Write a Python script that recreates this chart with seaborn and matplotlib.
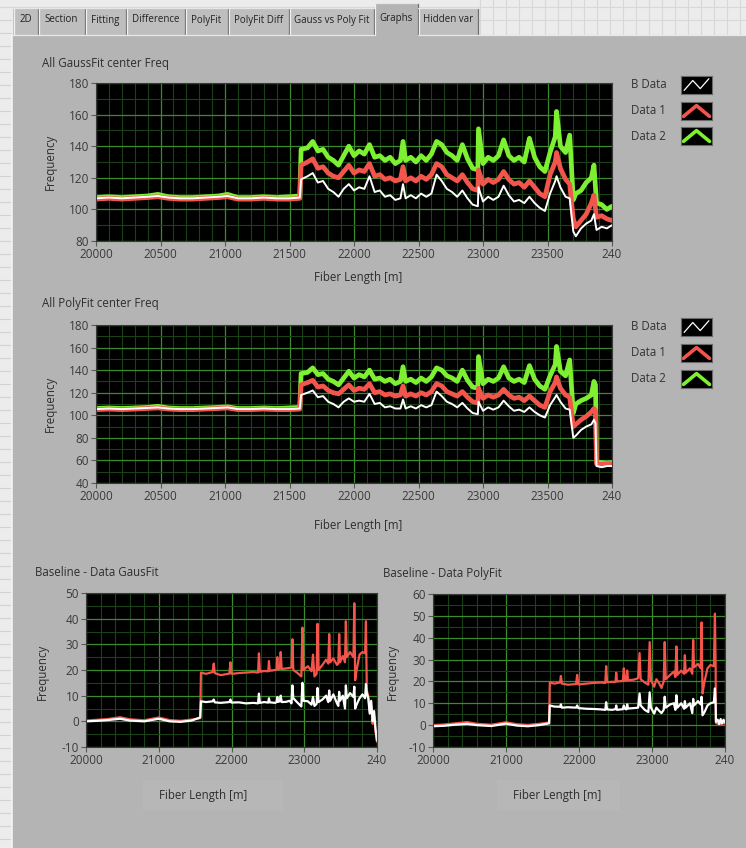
import numpy as np
import pandas as pd
import seaborn as sns
import matplotlib.pyplot as plt
from matplotlib.patches import Rectangle
from matplotlib.lines import Line2D
from matplotlib.ticker import MultipleLocator, FuncFormatter

# ---------------- values ----------------
tab_names = ["2D", "Section", "Fitting", "Difference", "PolyFit", "PolyFit Diff",
             "Gauss vs Poly Fit", "Graphs", "Hidden var"]
legend_names = ["B Data", "Data 1", "Data 2"]

# All GaussFit center Freq
gauss_x = [20000, 20100, 20200, 20300, 20400, 20480, 20560, 20650, 20750, 20850,
           20950, 21020, 21100, 21200, 21300, 21400, 21500, 21580,
           21590, 21640, 21680, 21720, 21760, 21800, 21840, 21880, 21920, 21960,
           22000, 22040, 22080, 22120, 22160, 22200, 22240, 22280, 22320, 22360,
           22380, 22400, 22440, 22480, 22520, 22560, 22600, 22640, 22680, 22720,
           22760, 22800, 22840, 22880, 22920, 22960, 22965, 23000, 23040, 23080,
           23120, 23160, 23200, 23240, 23280, 23320, 23360, 23400, 23440, 23480,
           23520, 23560, 23570, 23600, 23640, 23672, 23700, 23720, 23760, 23800,
           23840, 23860, 23880, 23920, 23960, 24000]
gauss_b = [107, 107.5, 107, 107.5, 108, 108.5, 107.5, 107, 107, 107.5,
           108, 108.5, 107, 107, 107.5, 107, 107, 107.5,
           119, 121, 123, 117, 118, 113, 111, 108, 113, 116,
           112, 114, 113, 121, 111, 112, 108, 109, 106, 107,
           116, 107, 109, 107, 110, 108, 110, 122, 118, 113,
           111, 108, 112, 107, 103, 102, 114, 105, 108, 106,
           108, 115, 109, 105, 106, 104, 108, 104, 101, 99,
           110, 118, 121, 114, 108, 107, 86, 83, 88, 91,
           93, 97, 87, 89, 88, 90]
gauss_d1 = [106.5, 107, 106.5, 107, 107.5, 108, 107, 106.5, 106.5, 107,
            107.5, 108, 106.5, 106.5, 107, 106.5, 106.5, 107,
            128, 130, 132, 126, 127, 123, 121, 120, 124, 128,
            123, 125, 124, 129, 121, 122, 119, 120, 118, 119,
            127, 118, 120, 118, 121, 119, 122, 129, 127, 122,
            120, 118, 122, 117, 113, 112, 125, 116, 119, 117,
            119, 124, 119, 116, 117, 114, 118, 114, 110, 108,
            122, 130, 136, 126, 119, 116, 94, 89, 93, 97,
            104, 109, 95, 96, 94, 93]
gauss_d2 = [107.5, 108, 107.5, 108, 108.5, 109.5, 108, 107.5, 107.5, 108,
            108.5, 109.5, 107.5, 107.5, 108, 107.5, 108, 108.5,
            138, 139, 143, 137, 138, 133, 131, 128, 134, 140,
            134, 137, 135, 141, 133, 134, 131, 133, 129, 131,
            143, 131, 133, 130, 134, 131, 135, 143, 141, 136,
            134, 131, 141, 132, 126, 125, 151, 129, 133, 131,
            134, 144, 134, 131, 133, 130, 145, 133, 127, 124,
            136, 146, 162, 140, 136, 147, 106, 110, 112, 117,
            120, 128, 104, 103, 100, 102]

# All PolyFit center Freq
poly_x = [20000, 20100, 20200, 20300, 20400, 20480, 20560, 20650, 20750, 20850,
          20950, 21020, 21100, 21200, 21300, 21400, 21500, 21580,
          21590, 21640, 21680, 21720, 21760, 21800, 21840, 21880, 21920, 21960,
          22000, 22040, 22080, 22120, 22160, 22200, 22240, 22280, 22320, 22360,
          22380, 22400, 22440, 22480, 22520, 22560, 22600, 22640, 22680, 22720,
          22760, 22800, 22840, 22880, 22920, 22960, 22965, 23000, 23040, 23080,
          23120, 23160, 23200, 23240, 23280, 23320, 23360, 23400, 23440, 23480,
          23520, 23560, 23570, 23600, 23640, 23672, 23700, 23720, 23760, 23800,
          23840, 23860, 23872, 23880, 23920, 23960, 24000]
poly_b = [105.5, 106, 105.5, 106, 106.5, 107, 106, 105.5, 105.5, 106,
          106.5, 107, 105.5, 105.5, 106, 105.5, 105.5, 106,
          118, 120, 122, 116, 117, 112, 110, 107, 112, 115,
          112, 113, 112, 119, 110, 111, 107, 108, 106, 106,
          114, 106, 108, 106, 109, 107, 109, 121, 117, 112,
          110, 107, 111, 106, 102, 101, 112, 104, 107, 105,
          107, 113, 108, 104, 105, 103, 107, 103, 100, 98,
          109, 116, 118, 112, 106, 105, 80, 82, 87, 90,
          92, 96, 93, 55, 54, 55, 55]
poly_d1 = [105, 105.5, 105, 105.5, 106, 106.5, 105.5, 105, 105, 105.5,
           106, 106.5, 105, 105, 105.5, 105, 105, 105.5,
           127, 129, 131, 125, 126, 122, 120, 119, 123, 127,
           122, 124, 123, 128, 120, 121, 118, 119, 117, 118,
           126, 117, 119, 117, 120, 118, 121, 128, 126, 121,
           119, 117, 121, 116, 112, 111, 124, 115, 118, 116,
           118, 123, 118, 115, 116, 113, 117, 113, 109, 107,
           121, 129, 134, 124, 118, 116, 90, 92, 96, 99,
           103, 106, 104, 57, 56.5, 57, 57]
poly_d2 = [106, 106.5, 106, 106.5, 107, 108, 106.5, 106, 106, 106.5,
           107, 107.5, 106, 106, 106.5, 106, 106.5, 107,
           137, 138, 142, 136, 137, 132, 130, 127, 133, 139,
           133, 136, 134, 140, 132, 133, 130, 132, 128, 130,
           143, 130, 132, 129, 133, 130, 134, 142, 140, 135,
           133, 130, 140, 131, 125, 124, 152, 128, 132, 130,
           133, 143, 133, 130, 132, 129, 144, 132, 126, 123,
           135, 145, 161, 139, 135, 149, 102, 110, 113, 115,
           118, 130, 127, 58.5, 58, 57.5, 58]

# Baseline - Data GausFit
gdiff_x = [20000, 20150, 20300, 20470, 20600, 20800, 21000, 21150, 21300, 21450, 21570,
           21580, 21650, 21740, 21756, 21770, 21850, 21970, 21986, 22000, 22100,
           22200, 22300, 22365, 22377, 22390, 22450, 22505, 22515, 22525, 22600,
           22620, 22630, 22640, 22665, 22676, 22690, 22750, 22800, 22825, 22837,
           22850, 22900, 22960, 22975, 22990, 23050, 23100, 23120, 23140, 23170,
           23182, 23195, 23250, 23300, 23330, 23343, 23356, 23400, 23450, 23468,
           23480, 23492, 23530, 23560, 23572, 23585, 23630, 23676, 23688, 23700,
           23720, 23760, 23800, 23836, 23848, 23860, 23880, 23900, 23920, 23940,
           23960, 23980, 24000]
gdiff_red = [0.3, 0.6, 0.9, 1.6, 0.8, 0.4, 1.5, 0.5, 0.2, 0.7, 1.2,
             19.0, 18.5, 19.2, 22.5, 18.8, 18.0, 18.6, 23.0, 18.5, 18.8,
             19.0, 19.2, 19.0, 26.5, 19.3, 19.6, 19.5, 23.5, 19.7, 20.0,
             20.2, 25.0, 20.3, 20.5, 27.0, 20.4, 20.6, 20.8, 21.0, 32.0,
             20.0, 19.0, 17.5, 36.5, 20.0, 21.5, 19.5, 26.0, 17.5, 18.5,
             38.0, 20.0, 22.0, 24.0, 22.5, 34.0, 23.0, 24.5, 22.0, 22.5,
             34.0, 23.0, 25.5, 23.0, 39.0, 25.0, 27.0, 25.0, 46.0, 16.0,
             20.0, 26.0, 27.0, 26.5, 39.0, 12.0, 10.0, 4.0, 6.0, -1.0,
             2.0, -4.0, -8.0]
gdiff_white = [0.0, 0.2, 0.5, 1.0, 0.3, 0.0, 1.0, 0.0, -0.2, 0.3, 1.5,
               7.8, 7.5, 7.8, 8.5, 7.4, 7.2, 7.5, 8.5, 7.3, 7.4,
               7.0, 7.2, 7.0, 10.8, 7.2, 7.5, 7.3, 9.0, 7.4, 7.2,
               7.5, 9.5, 7.6, 7.8, 10.0, 7.5, 7.6, 8.0, 7.0, 14.0,
               9.0, 7.5, 5.8, 15.0, 8.0, 7.8, 6.5, 9.5, 6.0, 6.8,
               13.0, 7.5, 8.5, 10.0, 7.5, 12.0, 8.0, 10.5, 7.0, 6.0,
               11.5, 8.0, 10.0, 5.0, 14.0, 9.0, 11.0, 9.5, 13.5, 5.0,
               6.5, 9.0, 10.5, 9.0, 14.5, 11.0, 9.0, 3.0, 8.0, 0.0,
               4.0, -3.0, -7.5]

# Baseline - Data PolyFit
pdiff_x = [20000, 20150, 20300, 20470, 20600, 20800, 21000, 21150, 21300, 21450, 21590,
           21600, 21660, 21740, 21752, 21765, 21850, 21960, 21975, 21990, 22100,
           22200, 22300, 22360, 22372, 22385, 22450, 22500, 22510, 22520, 22600,
           22614, 22628, 22650, 22660, 22672, 22750, 22810, 22830, 22845, 22900,
           22950, 22968, 22985, 23030, 23060, 23100, 23130, 23160, 23174, 23188,
           23250, 23300, 23320, 23334, 23348, 23400, 23440, 23450, 23462, 23520,
           23552, 23564, 23576, 23630, 23667, 23679, 23692, 23720, 23760, 23800,
           23848, 23862, 23872, 23876, 23900, 23920, 23940, 23960, 23980, 24000]
pdiff_red = [0.0, 0.3, 0.8, 1.4, 0.6, 0.2, 1.3, 0.4, 0.1, 0.6, 1.2,
             19.5, 19.0, 19.5, 22.5, 19.0, 18.5, 18.8, 23.0, 18.6, 19.0,
             19.3, 19.5, 19.3, 27.0, 19.6, 19.8, 19.8, 24.0, 20.0, 20.2,
             26.0, 20.3, 20.5, 25.0, 20.6, 20.8, 21.5, 33.0, 21.0, 19.5,
             18.5, 38.0, 20.5, 17.6, 21.0, 19.0, 17.0, 20.0, 38.0, 21.0,
             23.0, 24.5, 22.0, 36.0, 23.0, 25.0, 23.5, 32.0, 24.0, 26.0,
             23.5, 39.0, 26.5, 28.0, 26.0, 47.0, 14.5, 20.0, 26.0, 27.5,
             27.0, 51.0, 26.0, 1.0, 0.6, 1.2, 0.4, 1.0, 0.7, 0.9]
pdiff_white = [-0.5, -0.3, 0.2, 0.6, 0.0, -0.4, 0.7, -0.2, -0.5, 0.0, 0.8,
               9.0, 8.5, 8.4, 9.5, 8.0, 8.2, 8.0, 9.0, 7.8, 7.5,
               7.4, 7.2, 7.0, 10.5, 7.2, 7.0, 7.3, 9.0, 7.0, 7.3,
               9.0, 7.5, 7.2, 9.5, 7.6, 7.8, 8.0, 14.5, 9.0, 7.0,
               6.0, 15.0, 8.0, 5.3, 8.0, 6.5, 5.5, 7.0, 13.0, 8.0,
               9.5, 10.0, 7.0, 13.7, 8.0, 10.0, 7.5, 11.0, 8.0, 10.0,
               5.5, 12.0, 9.0, 11.0, 9.5, 13.0, 4.5, 6.0, 9.0, 10.0,
               10.5, 16.8, 9.0, 1.5, 2.5, 0.5, 2.8, 0.8, 2.5, 1.2]

# ---------------- styling ----------------
W, H = 746, 848
PANEL = "#b4b4b4"
WHITE, RED, GREEN = "#ffffff", "#f2554b", "#7df032"

sns.set_theme(style="ticks")
plt.rcParams["font.family"] = ["Open Sans", "DejaVu Sans"]
plt.rcParams["axes.unicode_minus"] = False
TXT = "#2e2e2e"


def fx(px):
    return px / W


def fy(py):
    return 1 - py / H


def box(x0, y0, x1, y1):
    return [fx(x0), fy(y1), (x1 - x0) / W, (y1 - y0) / H]


fig = plt.figure(figsize=(W / 100, H / 100), dpi=100, facecolor="#ececec")


def frect(x0, y0, x1, y1, z=-5, **kw):
    fig.add_artist(Rectangle((fx(x0), fy(y1)), (x1 - x0) / W, (y1 - y0) / H,
                             transform=fig.transFigure, zorder=z, **kw))


def fline(xs, ys, z=-4, **kw):
    fig.add_artist(Line2D([fx(v) for v in xs], [fy(v) for v in ys],
                          transform=fig.transFigure, zorder=z, **kw))


# background pane grid (left strip and right of the tabs)
for gy in range(7, H, 13):
    fline([0, 11], [gy, gy], z=-8, color="#d2d2d2", lw=0.8)
for gx in range(480, W, 13):
    fline([gx, gx], [0, 35], z=-8, color="#d8d8d8", lw=0.8)
fline([478, W], [20, 20], z=-8, color="#d8d8d8", lw=0.8)
fline([0, W], [7, 7], z=-8, color="#d8d8d8", lw=0.8)

# panel
frect(12, 35, W, H, z=-7, facecolor=PANEL, edgecolor="none")
fline([12, 12], [35, H], color="#f4f4f4", lw=1.2)

# tabs
tab_edges = [13, 38, 85, 126, 185, 228, 289, 375, 418, 478]
for i, name in enumerate(tab_names):
    x0, x1 = tab_edges[i], tab_edges[i + 1]
    sel = name == "Graphs"
    top = 3 if sel else 8
    frect(x0, top, x1, 37 if sel else 35,
          facecolor=PANEL if sel else "#bebebe", edgecolor="none")
    fline([x0 + 0.5, x0 + 0.5], [top, 35], color="#f0f0f0", lw=0.9)
    fline([x1 - 0.5, x1 - 0.5], [top, 35], color="#6e6e6e", lw=0.9)
    fline([x0, x1], [top, top], color="#e6e6e6", lw=0.9)
    fig.text(fx((x0 + x1) / 2), fy(18 if sel else 20), name, ha="center", va="center",
             fontsize=7.0, color="#222222")
fline([tab_edges[0], tab_edges[7]], [35, 35], color="#e8e8e8", lw=0.9)
fline([tab_edges[8], W], [35, 35], color="#e8e8e8", lw=0.9)

# faint plates behind the lower x labels
frect(143, 780, 283, 810, facecolor="#b7b7b7", edgecolor="none")
frect(497, 780, 620, 810, facecolor="#b7b7b7", edgecolor="none")


def style_axes(ax, ylim, xmaj, xmin, ymaj, ymin):
    ax.set_facecolor("black")
    ax.set_xlim(20000, 24000)
    ax.set_ylim(*ylim)
    ax.xaxis.set_major_locator(MultipleLocator(xmaj))
    ax.xaxis.set_minor_locator(MultipleLocator(xmin))
    ax.yaxis.set_major_locator(MultipleLocator(ymaj))
    ax.yaxis.set_minor_locator(MultipleLocator(ymin))
    ax.xaxis.set_major_formatter(FuncFormatter(lambda v, p: "240" if v >= 24000 else f"{v:.0f}"))
    ax.yaxis.set_major_formatter(FuncFormatter(lambda v, p: f"{v:.0f}"))
    ax.grid(which="minor", color="#1b4217", lw=0.8)
    ax.grid(which="major", color="#3d8a2c", lw=0.9)
    ax.set_axisbelow(True)
    ax.tick_params(which="minor", length=0)
    ax.tick_params(which="major", length=3.5, width=0.8, color="#5a5a5a",
                   labelsize=8.5, labelcolor="#3a3a3a", pad=1.5)
    for s in ax.spines.values():
        s.set_color("#3a3a3a")
        s.set_linewidth(0.8)
    ax.set_xlabel("")
    ax.set_ylabel("")


def swatch(rect, color, lw, zig):
    sa = fig.add_axes(box(*rect))
    sa.set_facecolor("black")
    sa.set_xlim(0, 1)
    sa.set_ylim(0, 1)
    sa.set_xticks([])
    sa.set_yticks([])
    for s in sa.spines.values():
        s.set_color("#6a6a6a")
        s.set_linewidth(0.8)
    if zig:
        sa.plot([0.1, 0.38, 0.62, 0.9], [0.2, 0.75, 0.3, 0.85], color=color, lw=lw)
    else:
        sa.plot([0.08, 0.5, 0.92], [0.2, 0.8, 0.2], color=color, lw=lw)


def legend_block(y_boxes):
    styles = [(WHITE, 0.9, True), (RED, 2.6, False), (GREEN, 2.6, False)]
    for name, (y0, y1), (c, lw, zig) in zip(legend_names, y_boxes, styles):
        fig.text(fx(631), fy((y0 + y1) / 2), name, ha="left", va="center",
                 fontsize=8.3, color="#333333")
        swatch((681, y0, 712, y1), c, lw, zig)


# ---- top: GaussFit ----
ax1 = fig.add_axes(box(96, 83, 612, 241))
sns.lineplot(x=gauss_x, y=gauss_d2, ax=ax1, color=GREEN, linewidth=3.4, estimator=None)
sns.lineplot(x=gauss_x, y=gauss_d1, ax=ax1, color=RED, linewidth=3.4, estimator=None)
sns.lineplot(x=gauss_x, y=gauss_b, ax=ax1, color=WHITE, linewidth=1.4, estimator=None)
style_axes(ax1, (80, 180), 500, 100, 20, 10)
fig.text(fx(42), fy(63), "All GaussFit center Freq", fontsize=8.3, color=TXT, va="center")
fig.text(fx(50), fy(162), "Frequency", rotation=90, fontsize=8.3, color=TXT,
         ha="center", va="center")
fig.text(fx(358), fy(278), "Fiber Length [m]", fontsize=8.3, color=TXT, ha="center", va="center")
legend_block([(76, 94), (102, 120), (127, 145)])

# ---- middle: PolyFit ----
ax2 = fig.add_axes(box(96, 325, 612, 483))
sns.lineplot(x=poly_x, y=poly_d2, ax=ax2, color=GREEN, linewidth=3.4, estimator=None)
sns.lineplot(x=poly_x, y=poly_d1, ax=ax2, color=RED, linewidth=3.4, estimator=None)
sns.lineplot(x=poly_x, y=poly_b, ax=ax2, color=WHITE, linewidth=1.4, estimator=None)
style_axes(ax2, (40, 180), 500, 100, 20, 10)
fig.text(fx(42), fy(304), "All PolyFit center Freq", fontsize=8.3, color=TXT, va="center")
fig.text(fx(50), fy(404), "Frequency", rotation=90, fontsize=8.3, color=TXT,
         ha="center", va="center")
fig.text(fx(358), fy(525), "Fiber Length [m]", fontsize=8.3, color=TXT, ha="center", va="center")
legend_block([(318, 336), (344, 362), (370, 388)])

# ---- bottom left: Baseline - Data GausFit ----
ax3 = fig.add_axes(box(86, 593, 377, 747))
sns.lineplot(x=gdiff_x, y=gdiff_red, ax=ax3, color=RED, linewidth=1.6, estimator=None)
sns.lineplot(x=gdiff_x, y=gdiff_white, ax=ax3, color=WHITE, linewidth=1.6, estimator=None)
style_axes(ax3, (-10, 50), 1000, 200, 10, 5)
fig.text(fx(35), fy(573), "Baseline - Data GausFit", fontsize=8.3, color=TXT, va="center")
fig.text(fx(42), fy(672), "Frequency", rotation=90, fontsize=8.3, color=TXT,
         ha="center", va="center")
fig.text(fx(203), fy(795), "Fiber Length [m]", fontsize=8.3, color=TXT, ha="center", va="center")

# ---- bottom right: Baseline - Data PolyFit ----
ax4 = fig.add_axes(box(433, 594, 725, 747))
sns.lineplot(x=pdiff_x, y=pdiff_red, ax=ax4, color=RED, linewidth=1.6, estimator=None)
sns.lineplot(x=pdiff_x, y=pdiff_white, ax=ax4, color=WHITE, linewidth=1.6, estimator=None)
style_axes(ax4, (-10, 60), 1000, 200, 10, 5)
fig.text(fx(383), fy(573), "Baseline - Data PolyFit", fontsize=8.3, color=TXT, va="center")
fig.text(fx(392), fy(672), "Frequency", rotation=90, fontsize=8.3, color=TXT,
         ha="center", va="center")
fig.text(fx(557), fy(795), "Fiber Length [m]", fontsize=8.3, color=TXT, ha="center", va="center")

fig.savefig("out.png", dpi=100, facecolor=fig.get_facecolor())
